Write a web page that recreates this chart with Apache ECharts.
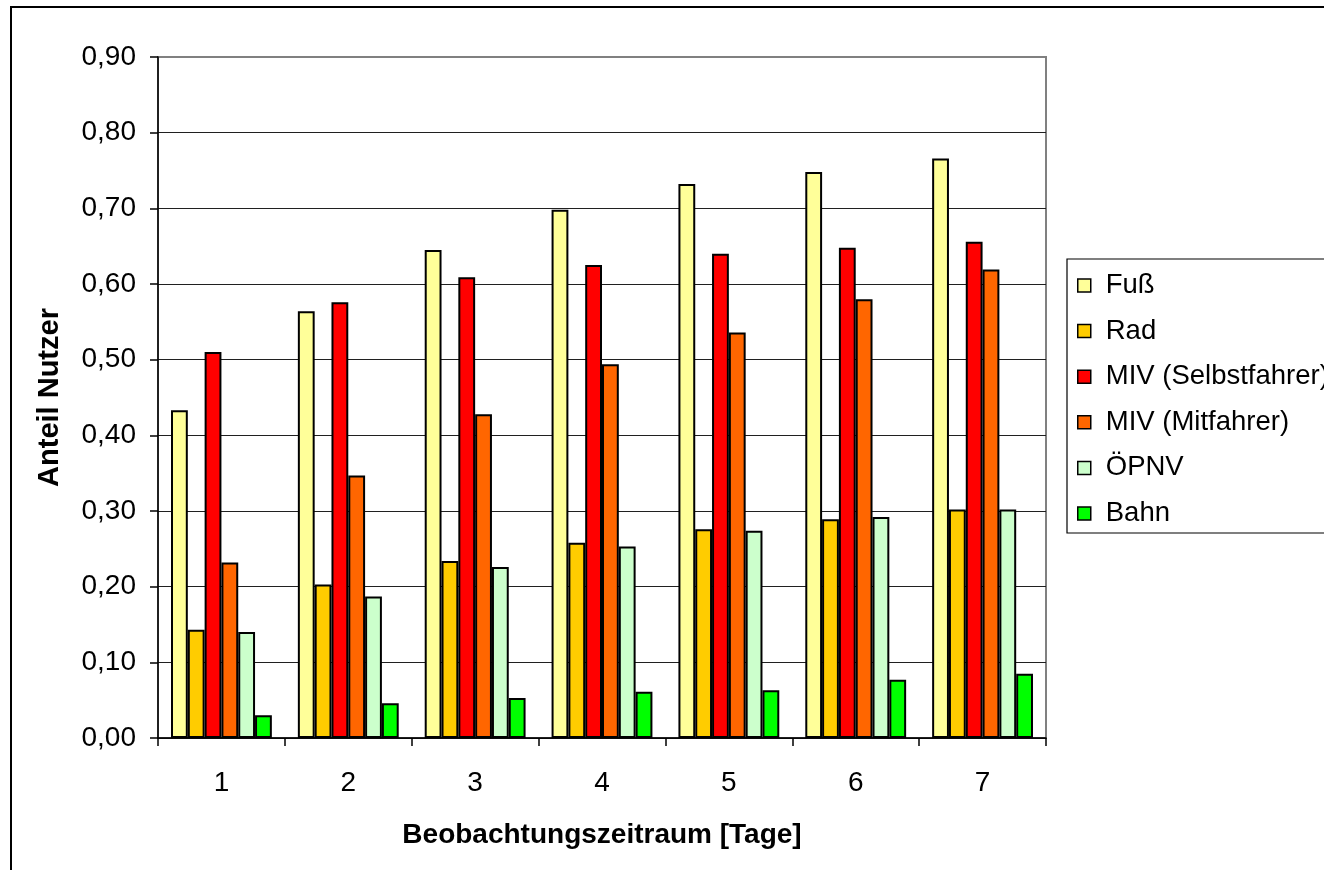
<!DOCTYPE html>
<html><head><meta charset="utf-8">
<script src="https://cdn.jsdelivr.net/npm/echarts@6/dist/echarts.min.js"></script>
<style>html,body{margin:0;padding:0;background:#fff}#c{width:1324px;height:870px}</style>
</head><body><div id="c"></div>
<script>
const categories = ['1', '2', '3', '4', '5', '6', '7'];
const seriesNames = ['Fuß', 'Rad', 'MIV (Selbstfahrer)', 'MIV (Mitfahrer)', 'ÖPNV', 'Bahn'];
const fuss      = [0.433, 0.564, 0.645, 0.698, 0.732, 0.748, 0.766];
const rad       = [0.143, 0.203, 0.234, 0.258, 0.276, 0.289, 0.302];
const mivSelbst = [0.510, 0.576, 0.609, 0.625, 0.640, 0.648, 0.656];
const mivMit    = [0.232, 0.347, 0.428, 0.494, 0.536, 0.580, 0.619];
const oepnv     = [0.140, 0.187, 0.226, 0.253, 0.274, 0.292, 0.302];
const bahn      = [0.030, 0.046, 0.053, 0.061, 0.063, 0.077, 0.085];
const yMin = 0, yMax = 0.9, yStep = 0.1;
const colors = ['#FFFF99', '#FFCC00', '#FF0000', '#FF6600', '#CCFFCC', '#00FF00'];

const values = [fuss, rad, mivSelbst, mivMit, oepnv, bahn];
const FONT = '"Liberation Sans", Arial, sans-serif';
const chart = echarts.init(document.getElementById('c'), null, {renderer: 'canvas'});
const splitColors = [];
for (let i = 0; i < 10; i++) splitColors.push(i === 9 ? '#808080' : '#202020');

chart.setOption({
  backgroundColor: '#fff',
  animation: false,
  textStyle: {fontFamily: FONT},
  graphic: [
    {type: 'rect', shape: {x: 11, y: 7, width: 1400, height: 900}, style: {fill: 'none', stroke: '#000', lineWidth: 2}, z: -10},
    {type: 'rect', shape: {x: 1067, y: 259, width: 300, height: 274}, style: {fill: '#fff', stroke: '#000', lineWidth: 1.2}, z: -5}
  ],
  grid: {left: 158, right: 278, top: 57, bottom: 132, show: true, borderColor: '#808080', borderWidth: 2, backgroundColor: '#fff'},
  legend: {
    orient: 'vertical', left: 1077, top: 271.5, padding: 0,
    itemWidth: 13, itemHeight: 13, itemGap: 17.6,
    icon: 'rect',
    itemStyle: {borderColor: '#000', borderWidth: 1.5},
    textStyle: {fontSize: 27.5, lineHeight: 28, color: '#000', fontFamily: FONT, padding: [0, 0, 0, 10]},
    data: seriesNames
  },
  xAxis: {
    type: 'category', data: categories,
    axisLine: {lineStyle: {color: '#000', width: 1.5}},
    axisTick: {show: true, length: 8, lineStyle: {color: '#000', width: 1.5}},
    axisLabel: {fontSize: 28, color: '#000', margin: 31, fontFamily: FONT},
    name: 'Beobachtungszeitraum [Tage]', nameLocation: 'middle', nameGap: 83,
    nameTextStyle: {fontSize: 28, fontWeight: 'bold', color: '#000', fontFamily: FONT}
  },
  yAxis: {
    type: 'value', min: yMin, max: yMax, interval: yStep,
    axisLine: {show: true, lineStyle: {color: '#000', width: 1.5}},
    axisTick: {show: true, length: 8, lineStyle: {color: '#000', width: 1.5}},
    axisLabel: {fontSize: 28, color: '#000', margin: 22, fontFamily: FONT,
      formatter: v => v.toFixed(2).replace('.', ',')},
    splitLine: {show: true, lineStyle: {color: splitColors, width: 1}},
    name: 'Anteil Nutzer', nameLocation: 'middle', nameGap: 94,
    nameTextStyle: {fontSize: 29, fontWeight: 'bold', color: '#000', fontFamily: FONT}
  },
  series: seriesNames.map((n, i) => ({
    name: n, type: 'bar', data: values[i],
    barGap: '0%', barCategoryGap: '20.5%',
    itemStyle: {color: colors[i], borderColor: '#000', borderWidth: 2}
  }))
});
</script></body></html>
